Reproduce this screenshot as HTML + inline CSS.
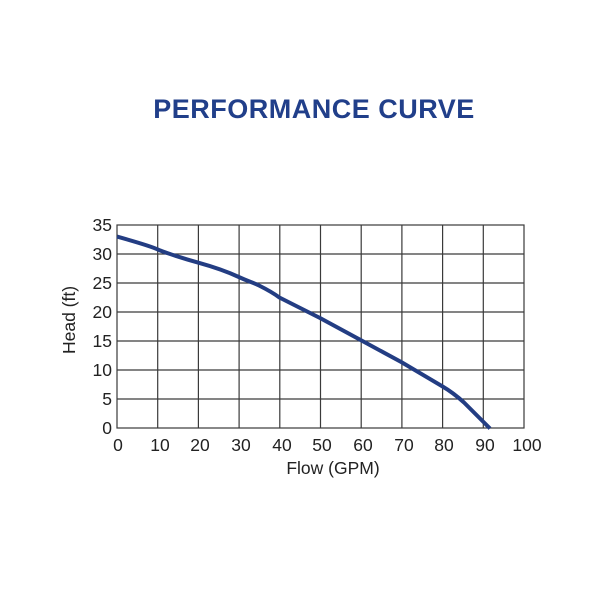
<!DOCTYPE html>
<html><head><meta charset="utf-8"><style>
html,body{margin:0;padding:0;background:#fff;}
svg{display:block;}
</style></head><body>
<svg width="600" height="600" xmlns="http://www.w3.org/2000/svg" font-family="Liberation Sans, Arial, sans-serif">
<rect width="600" height="600" fill="#fff"/>
<text x="314" y="118" text-anchor="middle" font-size="27" font-weight="bold" fill="#213f8a" letter-spacing="0.5">PERFORMANCE CURVE</text>
<g stroke="#3a3a3a" stroke-width="1.2" fill="none">
<rect x="117" y="225" width="407" height="203"/>
<path d="M157.7 225V428M198.4 225V428M239.1 225V428M279.8 225V428M320.5 225V428M361.2 225V428M401.9 225V428M442.6 225V428M483.3 225V428"/>
<path d="M117 254H524M117 283H524M117 312H524M117 341H524M117 370H524M117 399H524"/>
</g>
<path d="M117 236.6 C140 243,150 246,157.7 249.4 S185 259,198.4 262.7 S228 272,238.8 277 S252 282,259 285.5 S272 292,279.4 297.5 L320 318 L360.6 340 L401.2 362 L441.8 386 C452 392,458 397,464 402.5 L490 428.5" fill="none" stroke="#233d83" stroke-width="4" stroke-linejoin="round"/>
<g font-size="17.5" fill="#222" text-anchor="end">
<text x="112" y="231">35</text><text x="112" y="260">30</text><text x="112" y="289">25</text><text x="112" y="318">20</text><text x="112" y="347">15</text><text x="112" y="376">10</text><text x="112" y="405">5</text><text x="112" y="434">0</text>
</g>
<g font-size="17.5" fill="#222" text-anchor="middle">
<text x="118" y="451">0</text><text x="160" y="451">10</text><text x="200" y="451">20</text><text x="241" y="451">30</text><text x="282" y="451">40</text><text x="322" y="451">50</text><text x="363" y="451">60</text><text x="404" y="451">70</text><text x="444" y="451">80</text><text x="485" y="451">90</text><text x="527" y="451">100</text>
<text x="333" y="474">Flow (GPM)</text>
<text transform="translate(75,320) rotate(-90)">Head (ft)</text>
</g>
</svg>
</body></html>
